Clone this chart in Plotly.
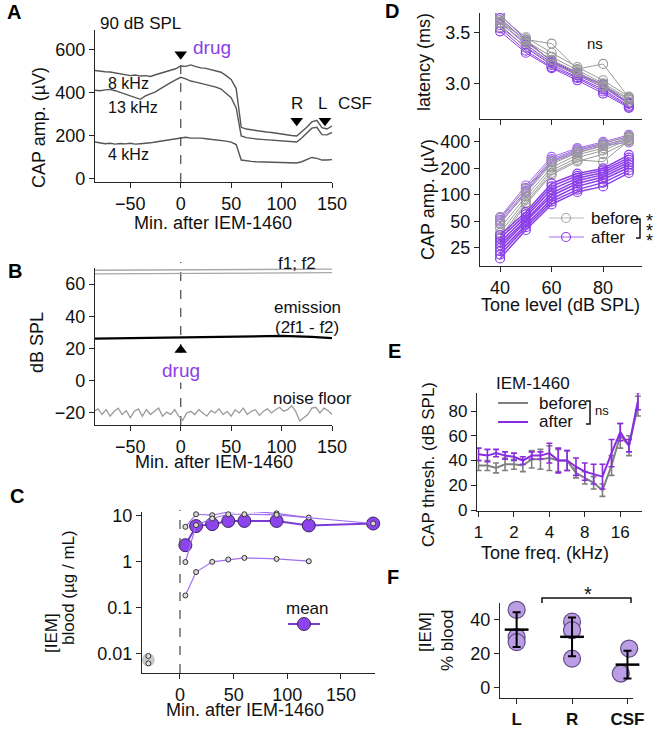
import plotly.graph_objects as go

# ---------------- data ----------------
# A: CAP amplitude at 90 dB SPL vs. time
a_time = list(range(-85, 151, 5))
cap_8k = [504, 500, 498, 497, 492, 488, 485, 480, 483, 478, 480, 476, 484, 490, 496, 505, 512,
          525, 523, 530, 522, 516, 514, 508, 504, 496, 480, 462, 420, 240, 232, 228, 225, 220,
          218, 216, 212, 210, 206, 202, 200, 218, 240, 265, 272, 238, 232, 246]
cap_13k = [412, 410, 414, 416, 410, 402, 395, 388, 380, 370, 386, 395, 405, 420, 435, 448, 460,
           472, 465, 455, 450, 444, 440, 432, 427, 418, 400, 378, 330, 200, 192, 188, 186, 184,
           182, 181, 180, 178, 176, 174, 172, 190, 212, 236, 240, 206, 205, 216]
cap_4k = [172, 168, 164, 166, 162, 165, 163, 166, 162, 164, 165, 168, 172, 176, 180, 184, 188,
          190, 194, 190, 191, 190, 187, 185, 183, 180, 176, 171, 160, 88, 84, 82, 80, 79,
          78, 78, 76, 75, 73, 72, 74, 80, 90, 100, 96, 88, 88, 90]

# B: DPOAE vs. time
b_time_line = [-85, -40, 0, 50, 100, 130, 150]
f1_level = [68.6, 68.8, 69.0, 69.1, 69.2, 69.3, 69.3]
f2_level = [66.4, 66.6, 66.8, 66.9, 67.0, 67.1, 67.1]
emission = [26.2, 26.6, 27.3, 27.5, 27.8, 27.2, 26.4]
b_time_noise = list(range(-86, 151, 4))
noise_floor = [-19, -17.5, -21, -18, -22, -19, -17, -21, -18.5, -23, -19, -17.5, -22, -18, -21,
               -19, -17, -22, -19.5, -21, -18, -22, -24.5, -20, -19, -21, -18, -20, -22, -18.5,
               -20, -17.5, -21, -19, -22, -18, -20, -17, -21, -19, -18, -21.5, -19, -17.5, -20,
               -18, -16.5, -19, -18, -15.5, -19, -25, -23, -21, -17, -16.5, -20, -17, -18.5, -21]

# C: blood concentration of IEM-1460 (ug/mL)
c_time = [5, 15, 30, 45, 60, 90, 120, 180]
c_animal1 = [5.6, 10.5, 10.0, 11.8, 12.4, 11.0, 8.9, None]
c_animal2 = [0.96, 6.1, 8.5, 10.5, 10.5, 10.2, None, 6.6]
c_animal3 = [0.18, 0.58, 0.97, 1.09, 1.18, 1.12, 1.0, None]
c_mean = [2.23, 5.8, 6.4, 7.5, 7.5, 7.5, 6.0, 6.6]
c_pre_time = [-29.5, -29.5]
c_pre_vals = [0.0087, 0.006]
c_pre_mean = [0.0072]

# D: latency and CAP amplitude vs. tone level
levels = [40, 50, 60, 70, 80, 90]
lat_before = [
    [3.66, 3.45, 3.30, 3.16, 3.03, 2.87],
    [3.62, 3.42, 3.26, 3.13, 3.00, 2.85],
    [3.59, 3.40, 3.23, 3.11, 2.98, 2.84],
    [3.60, 3.43, 3.39, 3.14, 3.19, 2.86],
    [3.55, 3.36, 3.19, 3.09, 2.96, 2.82],
]
lat_after = [
    [3.67, 3.43, 3.21, 3.09, 2.98, 2.80],
    [3.64, 3.41, 3.22, 3.10, 2.99, 2.81],
    [3.60, 3.38, 3.20, 3.08, 2.96, 2.80],
    [3.57, 3.35, 3.18, 3.06, 2.94, 2.78],
    [3.54, 3.32, 3.16, 3.05, 2.92, 2.77],
    [3.51, 3.30, 3.15, 3.03, 2.90, 2.76],
]
amp_before = [
    [55, 118, 240, 315, 385, 465],
    [48, 105, 225, 300, 360, 450],
    [42, 96, 205, 285, 340, 440],
    [37, 88, 190, 265, 320, 425],
    [33, 82, 178, 250, 238, 415],
    [30, 78, 170, 240, 290, 405],
]
amp_after_high = [
    [56, 128, 270, 340, 400, 480],
    [52, 120, 255, 330, 385, 460],
    [50, 112, 245, 320, 375, 420],
    [47, 108, 235, 305, 365, 395],
]
amp_after_low = [
    [35, 64, 135, 175, 200, 285],
    [32, 60, 125, 165, 190, 265],
    [29, 56, 115, 155, 180, 250],
    [27, 52, 105, 145, 170, 235],
    [25, 49, 98, 135, 160, 220],
    [23, 46, 90, 125, 150, 205],
    [21, 43, 84, 115, 138, 190],
    [19, 40, 78, 108, 125, 178],
]

# E: CAP thresholds vs. tone frequency
e_freq = [1, 1.19, 1.41, 1.68, 2, 2.38, 2.83, 3.36, 4, 4.76, 5.66, 6.73, 8, 9.51, 11.3,
          13.5, 16, 19, 22.6]
thr_before = [36, 36, 34, 37, 37, 36, 41, 41, 42, 40, 40, 30, 26, 22, 16, 36, 60, 52, 84]
thr_before_sd = [4, 4, 4, 5, 4, 5, 7, 8, 10, 9, 8, 4, 5, 5, 5, 8, 10, 8, 8]
thr_after = [45, 44, 46, 44, 43, 40, 44, 44, 46, 40, 40, 35, 31, 29, 27, 46, 63, 52, 88]
thr_after_sd = [5, 5, 3, 3, 3, 3, 3, 3, 8, 10, 8, 7, 7, 8, 10, 11, 7, 5, 7]

# F: IEM concentration as % of blood
f_cats = ['L', 'R', 'CSF']
f_L = [46, 30, 27]
f_R = [39, 34, 17.3]
f_CSF = [23.2, 8.5, 9.5]
f_jitter = [[0, 0, 0], [0, 0, 0], [0.03, -0.12, 0.12]]

# ---------------- style ----------------
W, H = 661, 730
FONT = 'Liberation Sans, Arial, sans-serif'
AX = '#262626'
GRAY = '#9a9a9a'
PURPLE = '#8b3ee8'
TRACE = '#555555'


def fx(px):
    return px / W


def fy(py):
    return 1 - py / H


def axis(x0, x1, rng, size=18, **kw):
    d = dict(domain=[x0, x1], range=rng, showline=True, linecolor=AX, linewidth=1.4,
             ticks='outside', ticklen=5, tickwidth=1.4, tickcolor=AX, showgrid=False,
             zeroline=False, automargin=False,
             tickfont=dict(family=FONT, size=size, color='#111'))
    d.update(kw)
    return d


fig = go.Figure()

# ---- A ----
for ys in (cap_8k, cap_13k, cap_4k):
    fig.add_trace(go.Scatter(x=a_time, y=ys, mode='lines', line=dict(color=TRACE, width=1.4),
                             xaxis='x', yaxis='y'))
fig.add_trace(go.Scatter(x=[0], y=[579], mode='markers', cliponaxis=False,
                         marker=dict(symbol='triangle-down', size=11, color='black'),
                         xaxis='x', yaxis='y'))
fig.add_trace(go.Scatter(x=[115, 143, 172], y=[271] * 3, mode='markers', cliponaxis=False,
                         marker=dict(symbol='triangle-down', size=11, color='black'),
                         xaxis='x', yaxis='y'))

# ---- B ----
for ys in (f1_level, f2_level):
    fig.add_trace(go.Scatter(x=b_time_line, y=ys, mode='lines', cliponaxis=False,
                             line=dict(color='#a8a8a8', width=1.3), xaxis='x2', yaxis='y2'))
fig.add_trace(go.Scatter(x=b_time_line, y=emission, mode='lines', line=dict(color='black', width=2.2),
                         xaxis='x2', yaxis='y2'))
fig.add_trace(go.Scatter(x=b_time_noise, y=noise_floor, mode='lines',
                         line=dict(color='#9a9a9a', width=1.3), xaxis='x2', yaxis='y2'))
fig.add_trace(go.Scatter(x=[0], y=[19], mode='markers', cliponaxis=False,
                         marker=dict(symbol='triangle-up', size=11, color='black'),
                         xaxis='x2', yaxis='y2'))

# ---- C ----
fig.add_trace(go.Scatter(x=c_time, y=c_mean, mode='lines+markers', cliponaxis=False,
                         line=dict(color='#7e3bd6', width=2),
                         marker=dict(size=13, color='#8e44ec', line=dict(color='#3b2463', width=1)),
                         xaxis='x3', yaxis='y3'))
for ys in (c_animal1, c_animal2, c_animal3):
    fig.add_trace(go.Scatter(x=c_time, y=ys, mode='lines+markers', connectgaps=True, cliponaxis=False,
                             line=dict(color='#a26ef0', width=1.2),
                             marker=dict(size=5, color='#d9d9d9', line=dict(color='#333', width=1)),
                             xaxis='x3', yaxis='y3'))
fig.add_trace(go.Scatter(x=[c_pre_time[0]], y=c_pre_mean, mode='markers',
                         marker=dict(size=13, color='#c8c8c8', line=dict(width=0)),
                         xaxis='x3', yaxis='y3'))
fig.add_trace(go.Scatter(x=c_pre_time, y=c_pre_vals, mode='markers',
                         marker=dict(size=5, color='#e0e0e0', line=dict(color='#333', width=1)),
                         xaxis='x3', yaxis='y3'))

# ---- D ----
circ = dict(symbol='circle-open', size=9, line=dict(width=1.2))
for ys in lat_after:
    fig.add_trace(go.Scatter(x=levels, y=ys, mode='lines+markers', line=dict(color=PURPLE, width=1),
                             marker=dict(circ, color=PURPLE), xaxis='x4', yaxis='y4'))
for ys in lat_before:
    fig.add_trace(go.Scatter(x=levels, y=ys, mode='lines+markers', line=dict(color=GRAY, width=1),
                             marker=dict(circ, color=GRAY), xaxis='x4', yaxis='y4'))
for ys in amp_after_high:
    fig.add_trace(go.Scatter(x=levels, y=ys, mode='lines+markers', cliponaxis=False,
                             line=dict(color='#a36cf0', width=1),
                             marker=dict(circ, color='#a36cf0'), xaxis='x5', yaxis='y5'))
for ys in amp_before:
    fig.add_trace(go.Scatter(x=levels, y=ys, mode='lines+markers', cliponaxis=False,
                             line=dict(color=GRAY, width=1),
                             marker=dict(circ, color=GRAY), xaxis='x5', yaxis='y5'))
for ys in amp_after_low:
    fig.add_trace(go.Scatter(x=levels, y=ys, mode='lines+markers', line=dict(color=PURPLE, width=1.5),
                             marker=dict(circ, color=PURPLE), xaxis='x5', yaxis='y5'))

# ---- E ----
fig.add_trace(go.Scatter(x=e_freq, y=thr_before, mode='lines', cliponaxis=False,
                         line=dict(color='#808080', width=2),
                         error_y=dict(type='data', array=thr_before_sd, color='#808080', thickness=1.6, width=3),
                         xaxis='x6', yaxis='y6'))
fig.add_trace(go.Scatter(x=e_freq, y=thr_after, mode='lines', cliponaxis=False,
                         line=dict(color='#8a2be2', width=2),
                         error_y=dict(type='data', array=thr_after_sd, color='#8a2be2', thickness=1.6, width=3),
                         xaxis='x6', yaxis='y6'))

# ---- F ----
for i, vals in enumerate((f_L, f_R, f_CSF)):
    xs = [i + j for j in f_jitter[i]]
    fig.add_trace(go.Scatter(x=xs, y=vals, mode='markers', cliponaxis=False,
                             marker=dict(size=17, color='#bb9de6', line=dict(color='#5e4d80', width=1.2)),
                             xaxis='x7', yaxis='y7'))
    m = sum(vals) / len(vals)
    sd = (sum((v - m) ** 2 for v in vals) / (len(vals) - 1)) ** 0.5
    fig.add_trace(go.Scatter(x=[i], y=[m], mode='markers', cliponaxis=False,
                             marker=dict(symbol='line-ew', size=17, line=dict(color='black', width=2.5)),
                             error_y=dict(type='data', array=[sd], color='black', thickness=2, width=4),
                             xaxis='x7', yaxis='y7'))

# ---------------- axes ----------------
fig.update_layout(
    xaxis=axis(fx(95), fx(332), [-85, 150], anchor='y', tickvals=[-50, 0, 50, 100, 150]),
    yaxis=axis(fy(182), fy(30), [-14, 692], anchor='x', tickvals=[0, 200, 400, 600]),
    xaxis2=axis(fx(95), fx(332), [-85, 150], anchor='y2', tickvals=[-50, 0, 50, 100, 150]),
    yaxis2=axis(fy(425), fy(268), [-27.5, 70], anchor='x2', tickvals=[-20, 0, 20, 40, 60]),
    xaxis3=axis(fx(142), fx(375), [-35.4, 181.7], anchor='y3', tickvals=[0, 50, 100, 150]),
    yaxis3=axis(fy(673), fy(512), [-2.43, 1.07], anchor='x3', type='log',
                tickvals=[0.01, 0.1, 1, 10], ticktext=['0.01', '0.1', '1', '10']),
    xaxis4=axis(fx(480), fx(642), [32.2, 95.1], anchor='y4', tickvals=[40, 60, 80], showticklabels=False),
    yaxis4=axis(fy(119), fy(13), [2.65, 3.69], anchor='x4', tickvals=[3.0, 3.5], ticktext=['3.0', '3.5']),
    xaxis5=axis(fx(480), fx(642), [32.2, 95.1], anchor='y5', tickvals=[40, 60, 80]),
    yaxis5=axis(fy(266), fy(128), [1.193, 2.76], anchor='x5', type='log',
                tickvals=[25, 50, 100, 200, 400], ticktext=['25', '50', '100', '200', '400']),
    xaxis6=axis(fx(477), fx(642), [-0.013, 1.389], anchor='y6', type='log', size=17,
                tickvals=[1, 2, 4, 8, 16], ticktext=['1', '2', '4', '8', '16']),
    yaxis6=axis(fy(511), fy(393), [-0.8, 94.6], anchor='x6', size=17, tickvals=[0, 20, 40, 60, 80]),
    xaxis7=axis(fx(500), fx(633), [-0.3, 2.1], anchor='y7', tickvals=[0, 1, 2], ticktext=f_cats,
                tickfont=dict(family=FONT, size=17, color='#111', weight='bold')),
    yaxis7=axis(fy(698), fy(603), [-5.9, 50], anchor='x7', tickvals=[0, 20, 40]),
)

# ---------------- text ----------------
anns = []


def txt(s, px, py, size=18, color='#111', xanchor='center', angle=0, bold=False, bg=None):
    a = dict(text=s, x=fx(px), y=fy(py), xref='paper', yref='paper', showarrow=False,
             xanchor=xanchor, yanchor='middle', textangle=angle,
             font=dict(family=FONT, size=size, color=color, weight='bold' if bold else 'normal'))
    if bg:
        a['bgcolor'] = bg
    anns.append(a)


# panel letters
for L, px, py in (('A', 14, 12), ('B', 15, 271), ('C', 17, 496), ('D', 392, 11), ('E', 395, 351), ('F', 393, 577)):
    txt(L, px, py, size=20, color='black', bold=True)

# A
txt('90 dB SPL', 98, 23, size=17, xanchor='left')
txt('8 kHz', 106, 83, size=16, xanchor='left')
txt('13 kHz', 106, 107, size=16, xanchor='left')
txt('4 kHz', 106, 155, size=16, xanchor='left')
txt('drug', 191, 48, size=19, color=PURPLE, xanchor='left')
txt('R', 297, 103, size=17)
txt('L', 322, 103, size=17)
txt('CSF', 355, 103, size=17)
txt('CAP amp. (µV)', 39, 128, size=18, angle=-90)
txt('Min. after IEM-1460', 213, 223, size=18)

# B
txt('f1; f2', 297, 263, size=17)
txt('emission', 307, 307, size=17)
txt('(2f1 - f2)', 307, 327, size=17)
txt('noise floor', 312, 398, size=17)
txt('drug', 181, 370, size=19, color=PURPLE, bg='white')
txt('dB SPL', 37, 343, size=18, angle=-90)
txt('Min. after IEM-1460', 214, 462, size=18)

# C
txt('[IEM]', 51, 633, size=17, angle=-90)
txt('blood (µg / mL)', 68, 588, size=17, angle=-90)
txt('Min. after IEM-1460', 245, 710, size=18)
txt('mean', 307, 608, size=17)

# D
txt('ns', 595, 43, size=15)
txt('latency (ms)', 424, 62, size=18, angle=-90)
txt('CAP amp. (µV)', 428, 200, size=18, angle=-90)
txt('before', 589, 218, size=17, xanchor='left')
txt('after', 589, 237, size=17, xanchor='left')
for py in (218, 228, 238):
    txt('*', 649, py + 3, size=18)
txt('Tone level (dB SPL)', 560, 305, size=18)

# E
txt('IEM-1460', 533, 383, size=17)
txt('before', 537, 403, size=17, xanchor='left')
txt('after', 537, 422, size=17, xanchor='left')
txt('ns', 593, 410, size=13, xanchor='left')
txt('CAP thresh. (dB SPL)', 428, 465, size=17, angle=-90)
txt('Tone freq. (kHz)', 545, 553, size=18)

# F
txt('*', 588, 594, size=20)
txt('[IEM]', 425, 632, size=17, angle=-90)
txt('% blood', 447, 640, size=17, angle=-90)

# ---------------- shapes ----------------
shapes = []
dash = dict(color='#555', width=1.3, dash='dash')
shapes.append(dict(type='line', xref='x', yref='paper', x0=0, x1=0, y0=fy(182), y1=fy(62), line=dash))
shapes.append(dict(type='line', xref='x2', yref='paper', x0=0, x1=0, y0=fy(425), y1=fy(262), line=dash, layer='below'))
shapes.append(dict(type='line', xref='x3', yref='paper', x0=0, x1=0, y0=fy(673), y1=fy(510), line=dash))


def pline(x0, y0, x1, y1, color, width=1.5):
    shapes.append(dict(type='line', xref='paper', yref='paper', x0=fx(x0), y0=fy(y0), x1=fx(x1), y1=fy(y1),
                       line=dict(color=color, width=width)))


def pcircle(cx, cy, r, line_color, fill=None, width=1.2):
    shapes.append(dict(type='circle', xref='paper', yref='paper', x0=fx(cx - r), x1=fx(cx + r),
                       y0=fy(cy + r), y1=fy(cy - r), line=dict(color=line_color, width=width),
                       fillcolor=fill or 'rgba(0,0,0,0)'))


def ppath(points, color, width=1.5):
    d = 'M ' + ' L '.join(f'{fx(x):.5f},{fy(y):.5f}' for x, y in points)
    shapes.append(dict(type='path', xref='paper', yref='paper', path=d, line=dict(color=color, width=width)))


# C legend
pline(288, 624, 320, 624, '#7e3bd6', 2)
pcircle(304, 624, 6.5, '#3b2463', '#8e44ec', 1)
# D legend
pline(549, 218, 584, 218, '#b8b8b8', 1)
pcircle(566, 218, 4.5, '#a8a8a8')
pline(549, 237, 584, 237, '#a36cf0', 1)
pcircle(566, 237, 4.5, PURPLE)
ppath([(636, 219), (640, 219), (640, 238), (636, 238)], '#111', 1.5)
# E legend
pline(498, 403, 528, 403, '#808080', 2)
pline(498, 422, 528, 422, '#8a2be2', 2)
ppath([(586, 401), (590, 401), (590, 424), (586, 424)], '#111', 1.5)
# F bracket
ppath([(542, 603), (542, 598), (631, 598), (631, 603)], '#111', 1.5)

fig.update_layout(
    template='none',
    width=W, height=H, margin=dict(l=0, r=0, t=0, b=0, autoexpand=False),
    paper_bgcolor='white', plot_bgcolor='white', showlegend=False,
    annotations=anns, shapes=shapes,
    font=dict(family=FONT, color='#111'),
)

# the page's default body margin would push the figure 8 px off the window
fig.write_html("out.html", config={'displayModeBar': False},
               post_script="document.body.style.margin='0px';document.body.style.overflow='hidden';")
